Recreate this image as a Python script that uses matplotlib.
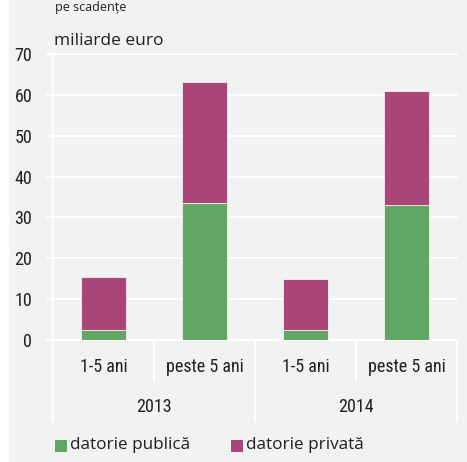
import matplotlib
matplotlib.use("Agg")
import matplotlib.pyplot as plt
from matplotlib.patches import Rectangle
import numpy as np

years = ["2013", "2014"]
maturities = ["1-5 ani", "peste 5 ani", "1-5 ani", "peste 5 ani"]
publica = [2.5, 33.5, 2.5, 33.0]
privata = [13.0, 29.7, 12.5, 28.0]
yticks = [0, 10, 20, 30, 40, 50, 60, 70]
series_names = ["datorie publică", "datorie privată"]
series_colors = ["#62a663", "#a94577"]
unit = "miliarde euro"
title_frag = "pe scadențe"

W, H = 467, 462
BG = "#f1f2f2"
TXT = "#231f20"
cond = ["Roboto Condensed", "DejaVu Sans"]
reg = ["Open Sans", "DejaVu Sans"]

fig = plt.figure(figsize=(W / 100, H / 100), dpi=100)
fig.patches.append(Rectangle((9 / W, 0), 1 - 9 / W, 1, transform=fig.transFigure,
                             facecolor=BG, edgecolor="none", zorder=-10))

def fx(px):
    return px / W

def fy(py):
    return 1 - py / H

ax_l, ax_r, ax_t, ax_b = 53, 457, 54, 340
AH = ax_b - ax_t
ax = fig.add_axes([fx(ax_l), fy(ax_b), fx(ax_r) - fx(ax_l), fy(ax_t) - fy(ax_b)])
ax.set_facecolor("none")
ax.set_xlim(-0.5, 3.5)
ax.set_ylim(0, 70)
for s in ax.spines.values():
    s.set_visible(False)

x = np.arange(len(maturities))
ax.bar(x, publica, width=0.455, color=series_colors[0], edgecolor="white", linewidth=0.5, zorder=3)
ax.bar(x, privata, bottom=publica, width=0.455, color=series_colors[1], edgecolor="white", linewidth=0.5, zorder=3)

ax.set_yticks(yticks)
ax.set_yticklabels([str(v) for v in yticks], family=cond, fontsize=13, color=TXT)
ax.tick_params(axis="y", length=5, width=1.5, color="white", pad=10)
ax.set_xticks([])
for v in yticks:
    ax.axhline(v, color="white", linewidth=1.5, zorder=1, clip_on=False)
ax.axvline(-0.5, color="white", linewidth=1.5, zorder=1, clip_on=False)

bt = ax.get_xaxis_transform()
for xi, lbl in zip(x, maturities):
    ax.text(xi, -27 / AH, lbl, transform=bt, ha="center", va="center",
            family=cond, fontsize=13, color=TXT)
for xs in [0.5, 2.5]:
    ax.plot([xs, xs], [0, -41 / AH], transform=bt, color="white", lw=1.5, clip_on=False)
for xs in [-0.5, 1.5, 3.5]:
    ax.plot([xs, xs], [0, -81 / AH], transform=bt, color="white", lw=1.5, clip_on=False)
for i, yr in enumerate(years):
    ax.text(2 * i + 0.5, -67 / AH, yr, transform=bt, ha="center", va="center",
            family=cond, fontsize=13, color=TXT)

fig.text(fx(54), fy(41), unit, family=reg, fontsize=12.5, color=TXT, ha="left", va="center")
fig.text(fx(55), fy(1), title_frag, family=reg, fontsize=9, color=TXT, ha="left", va="top")

# legend
lx = [55, 231]
for px, name, col in zip(lx, series_names, series_colors):
    fig.patches.append(Rectangle((fx(px), fy(452)), fx(12), 12 / H, transform=fig.transFigure,
                                 facecolor=col, edgecolor="none"))
    fig.text(fx(px + 15), fy(445), name, family=reg, fontsize=12.3, color=TXT, ha="left", va="center")

fig.savefig("out.png", dpi=100)
